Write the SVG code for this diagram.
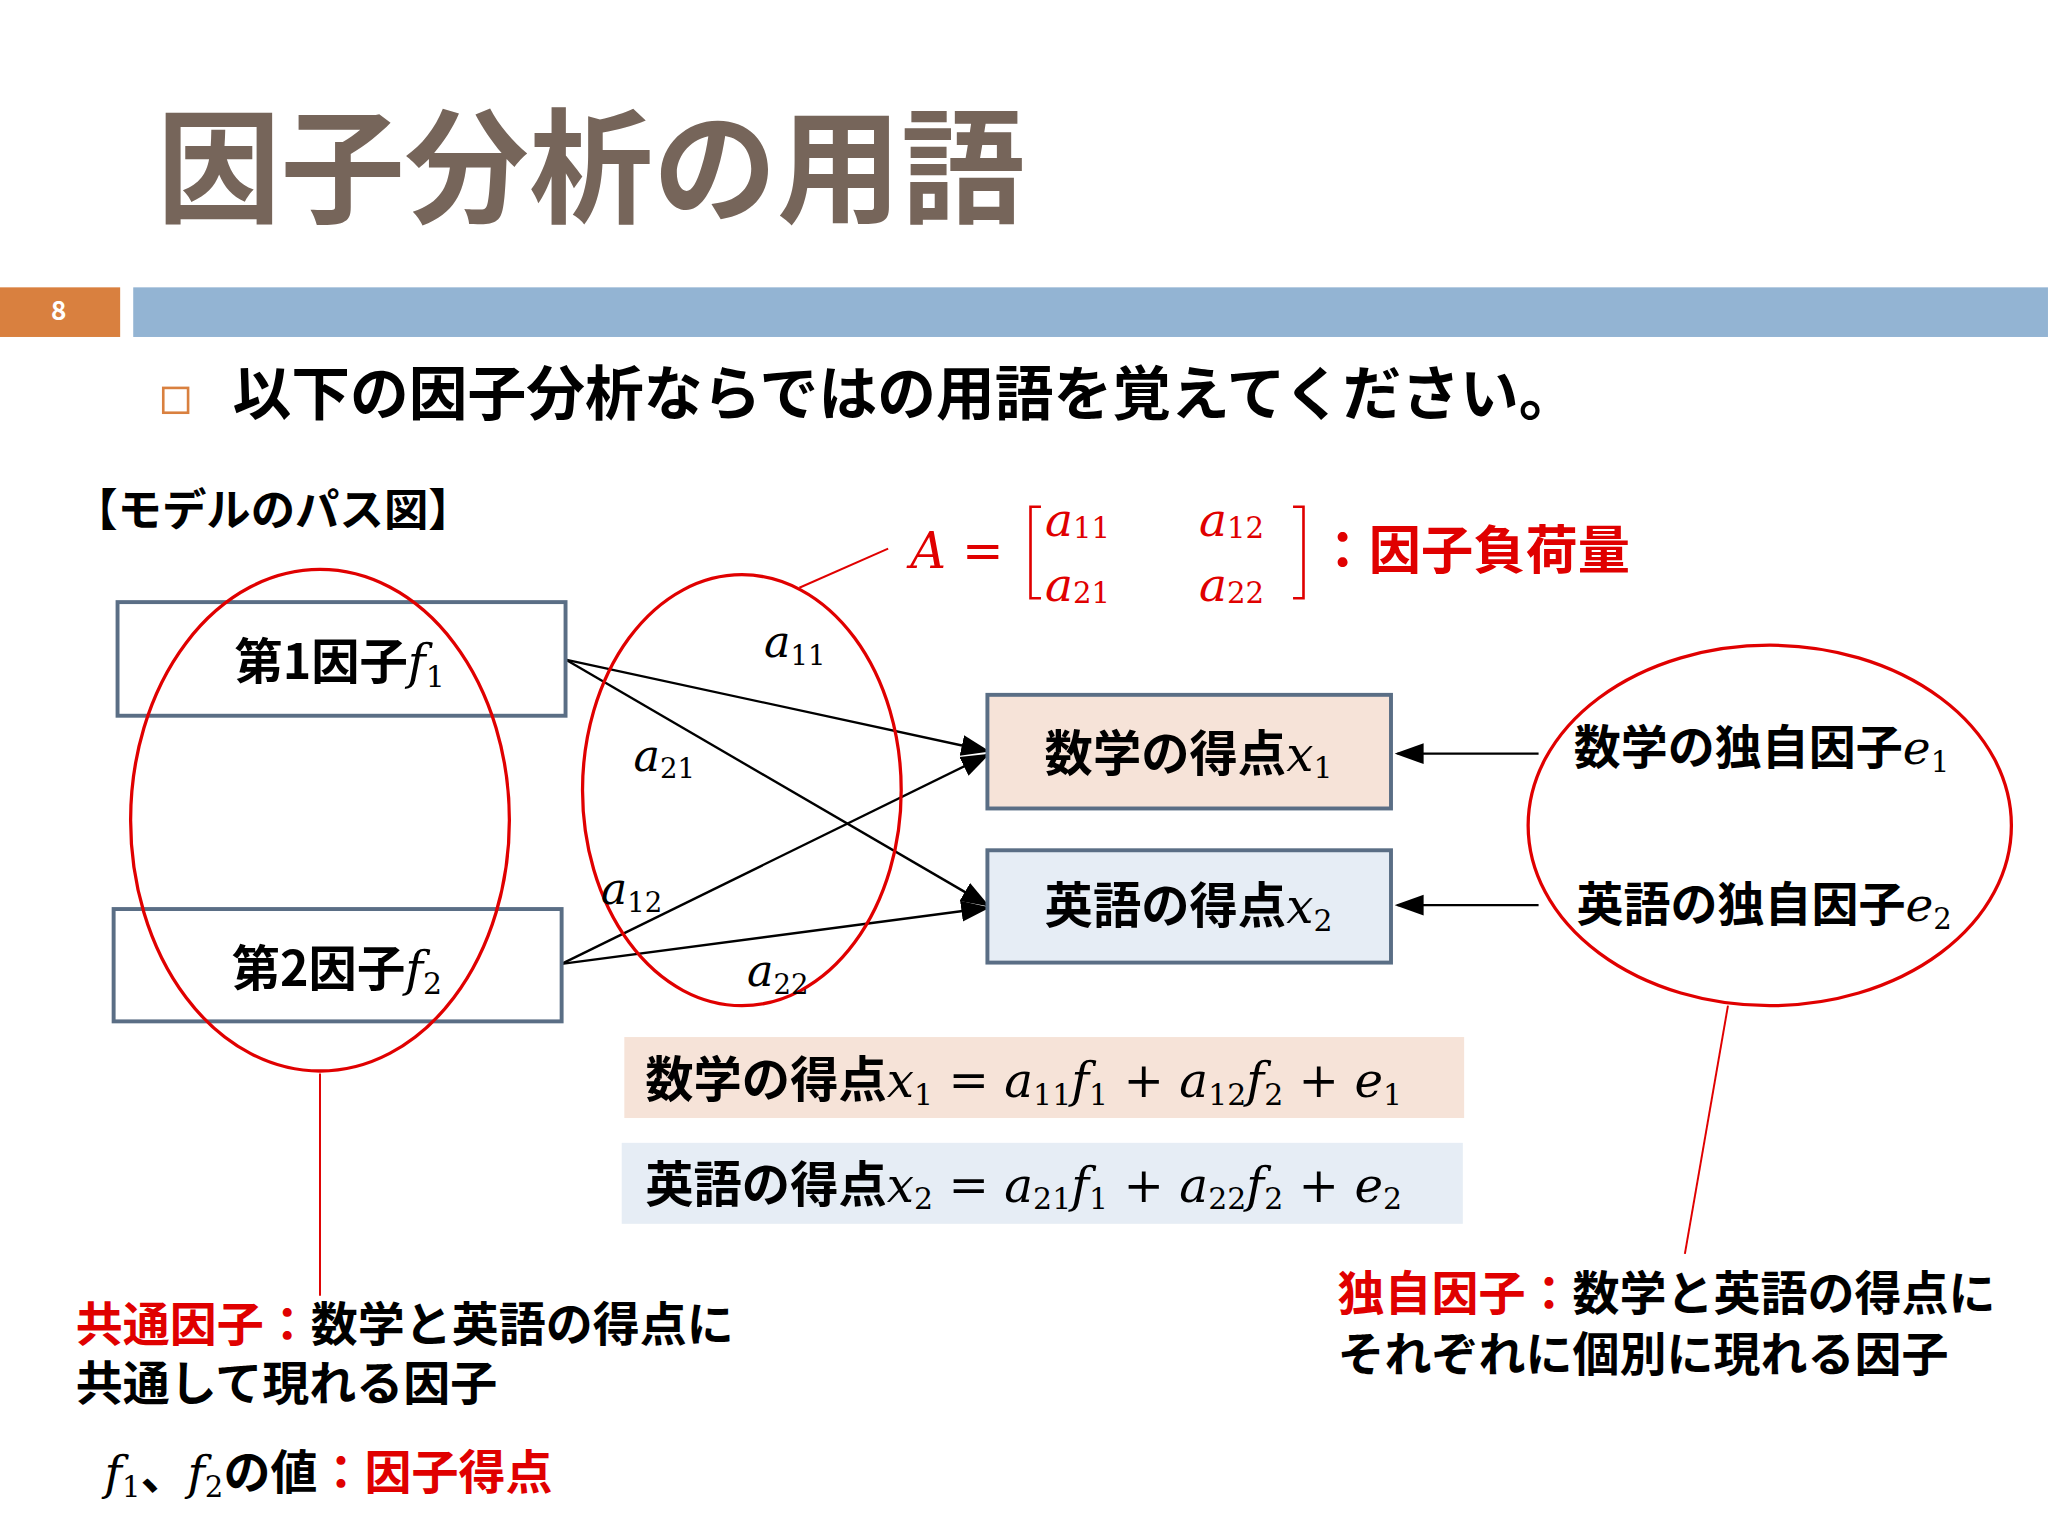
<svg xmlns="http://www.w3.org/2000/svg" width="2048" height="1536" viewBox="0 0 2048 1536">
<style>
.j{font-family:"Noto Sans CJK JP","Noto Sans",sans-serif;font-weight:bold}
.m{font-family:"DejaVu Serif","Liberation Serif",serif;font-style:italic;font-weight:normal}
.s{font-size:0.62em;font-style:normal}
.r{fill:#e00000}
.box{stroke:#5a6e85;stroke-width:3}
.ell{fill:none;stroke:#e00000;stroke-width:2.5}
.ln{stroke:#000;stroke-width:1.8;fill:none}
</style>
<defs>
<marker id="ah2" markerWidth="22" markerHeight="22" refX="20" refY="11" orient="auto" markerUnits="userSpaceOnUse" viewBox="0 0 22 22"><path d="M0,3L22,11L0,19z" fill="#000"/></marker></defs>
<rect width="2048" height="1536" fill="#fff"/>
<g transform="scale(1.3061)">
<text x="120" y="163" class="j" font-size="95" fill="#76655a">因子分析の用語</text>
<rect x="0" y="220" width="92" height="38" fill="#d9803f"/>
<text x="45" y="245" class="j" font-size="20" fill="#fff" text-anchor="middle">8</text>
<rect x="102" y="220" width="1466" height="38" fill="#93b4d3"/>
<rect x="125" y="297" width="19" height="19" fill="none" stroke="#d9803f" stroke-width="2"/>
<text x="178" y="318" class="j" font-size="45">以下の因子分析ならではの用語を覚えてください。</text>
<text x="56" y="403" class="j" font-size="34">【モデルのパス図】</text>
<g id="matrix" class="r">
<text x="697" y="435" class="m" font-size="38">A =</text>
<path d="M797,388h-8v70h8M990,388h8v70h-8" fill="none" stroke="#e00000" stroke-width="2"/>
<text x="800" y="410" class="m" font-size="36">a<tspan class="s" dy="2">11</tspan></text>
<text x="918" y="410" class="m" font-size="36">a<tspan class="s" dy="2">12</tspan></text>
<text x="800" y="460" class="m" font-size="36">a<tspan class="s" dy="2">21</tspan></text>
<text x="918" y="460" class="m" font-size="36">a<tspan class="s" dy="2">22</tspan></text>
<text x="1008" y="436" class="j" font-size="40">：因子負荷量</text>
</g>
<g id="connectors">
<line x1="612" y1="450" x2="680" y2="420" stroke="#e00000" stroke-width="1.5"/>
<line x1="433" y1="505" x2="756" y2="575" class="ln" marker-end="url(#ah2)"/>
<line x1="433" y1="505" x2="756" y2="693" class="ln" marker-end="url(#ah2)"/>
<line x1="430" y1="738" x2="756" y2="578" class="ln" marker-end="url(#ah2)"/>
<line x1="430" y1="738" x2="756" y2="695" class="ln" marker-end="url(#ah2)"/>
<line x1="1178" y1="577" x2="1070" y2="577" class="ln" marker-end="url(#ah2)"/>
<line x1="1178" y1="693" x2="1070" y2="693" class="ln" marker-end="url(#ah2)"/>
<line x1="245" y1="822" x2="245" y2="992" stroke="#e00000" stroke-width="1.5"/>
<line x1="1323" y1="770" x2="1290" y2="960" stroke="#e00000" stroke-width="1.5"/>
</g>
<g id="f1"><rect x="90" y="461" width="343" height="87" fill="#fff" class="box"/>
<text x="260" y="520" class="j" font-size="37" text-anchor="middle">第1因子<tspan class="m">f<tspan class="s" dy="6">1</tspan></tspan></text></g>
<g id="f2"><rect x="87" y="696" width="343" height="86" fill="#fff" class="box"/>
<text x="258" y="755" class="j" font-size="37" text-anchor="middle">第2因子<tspan class="m">f<tspan class="s" dy="6">2</tspan></tspan></text></g>
<g id="x1"><rect x="756" y="532" width="309" height="87" fill="#f6e3d8" class="box"/>
<text x="910" y="590" class="j" font-size="37" text-anchor="middle">数学の得点<tspan class="m">x<tspan class="s" dy="6">1</tspan></tspan></text></g>
<g id="x2"><rect x="756" y="651" width="309" height="86" fill="#e6edf5" class="box"/>
<text x="910" y="707" class="j" font-size="37" text-anchor="middle">英語の得点<tspan class="m">x<tspan class="s" dy="6">2</tspan></tspan></text></g>
<ellipse cx="245" cy="628" rx="145" ry="192" class="ell"/>
<ellipse cx="568" cy="605" rx="122" ry="165" class="ell"/>
<g id="e"><ellipse cx="1355" cy="632" rx="185" ry="138" class="ell"/>
<text x="1205" y="585" class="j" font-size="36">数学の独自因子<tspan class="m">e<tspan class="s" dy="6">1</tspan></tspan></text>
<text x="1207" y="705" class="j" font-size="36">英語の独自因子<tspan class="m">e<tspan class="s" dy="6">2</tspan></tspan></text></g>
<g font-size="34">
<text x="585" y="503" class="m">a<tspan class="s" dy="6">11</tspan></text>
<text x="485" y="590" class="m">a<tspan class="s" dy="6">21</tspan></text>
<text x="460" y="692" class="m">a<tspan class="s" dy="6">12</tspan></text>
<text x="572" y="755" class="m">a<tspan class="s" dy="6">22</tspan></text>
</g>
<g id="eq1"><rect x="478" y="794" width="643" height="62" fill="#f6e3d8"/>
<text x="494" y="840" class="j" font-size="37">数学の得点<tspan class="m">x<tspan class="s" dy="6">1</tspan><tspan dy="-6"> = a</tspan><tspan class="s" dy="6">11</tspan><tspan dy="-6">f</tspan><tspan class="s" dy="6">1</tspan><tspan dy="-6"> + a</tspan><tspan class="s" dy="6">12</tspan><tspan dy="-6">f</tspan><tspan class="s" dy="6">2</tspan><tspan dy="-6"> + e</tspan><tspan class="s" dy="6">1</tspan></tspan></text></g>
<g id="eq2"><rect x="476" y="875" width="644" height="62" fill="#e6edf5"/>
<text x="494" y="920" class="j" font-size="37">英語の得点<tspan class="m">x<tspan class="s" dy="6">2</tspan><tspan dy="-6"> = a</tspan><tspan class="s" dy="6">21</tspan><tspan dy="-6">f</tspan><tspan class="s" dy="6">1</tspan><tspan dy="-6"> + a</tspan><tspan class="s" dy="6">22</tspan><tspan dy="-6">f</tspan><tspan class="s" dy="6">2</tspan><tspan dy="-6"> + e</tspan><tspan class="s" dy="6">2</tspan></tspan></text></g>
<text x="58" y="1027" class="j" font-size="36"><tspan class="r">共通因子：</tspan>数学と英語の得点に</text>
<text x="58" y="1072" class="j" font-size="36">共通して現れる因子</text>
<text x="80" y="1140" class="j" font-size="36"><tspan class="m">f<tspan class="s" dy="6">1</tspan></tspan><tspan dy="-6">、</tspan><tspan class="m">f<tspan class="s" dy="6">2</tspan></tspan><tspan dy="-6">の値</tspan><tspan class="r">：因子得点</tspan></text>
<text x="1024" y="1003" class="j" font-size="36"><tspan class="r">独自因子：</tspan>数学と英語の得点に</text>
<text x="1024" y="1050" class="j" font-size="36">それぞれに個別に現れる因子</text>
</g>
</svg>
